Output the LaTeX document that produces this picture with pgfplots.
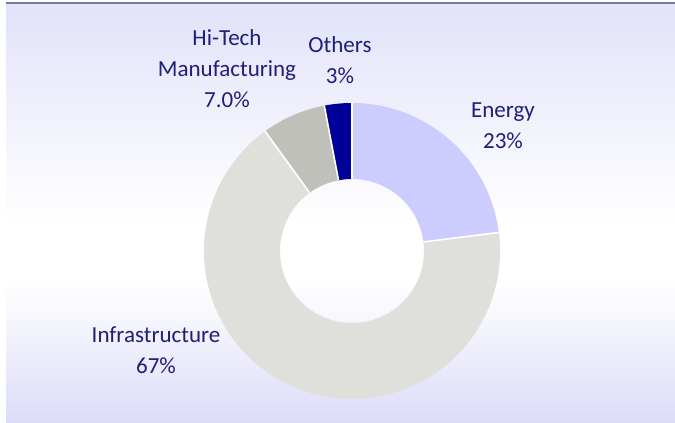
\documentclass[border=0pt]{standalone}
\usepackage{pgfplots}
\pgfplotsset{compat=1.18}
\usepgfplotslibrary{polar}
\usepackage{fontspec}
\setmainfont{Carlito}

\definecolor{cEnergy}{HTML}{CCCCFF}
\definecolor{cInfra}{HTML}{DFDFDB}
\definecolor{cHiTech}{HTML}{C0C0BA}
\definecolor{cOthers}{HTML}{000099}
\definecolor{txt}{HTML}{1F1F78}
\definecolor{bgTop}{HTML}{E2E2FA}
\definecolor{bgBot}{HTML}{DCDCF8}
\definecolor{rule}{HTML}{7878A4}

\begin{document}
\begin{tikzpicture}[x=1pt,y=1pt]
\useasboundingbox (0,0) rectangle (337.5,211.5);
% panel: lavender at top and bottom, white band in the middle
\shade[top color=bgTop, bottom color=white] (3,100) rectangle (337.5,210);
\fill[white] (3,70) rectangle (337.5,100);
\shade[top color=white, bottom color=bgBot] (3,0) rectangle (337.5,70);
\draw[rule, line width=1pt] (3,210) -- (337.5,210);

% shares in %: Energy 23, Infrastructure 67, Hi-Tech 7, Others 3
% clockwise from the top, 3.6 degrees per percent
\begin{polaraxis}[
    hide axis, scale only axis, clip=false,
    width=148pt, height=148pt,
    xmin=0, xmax=360, ymin=0, ymax=74,
    at={(176pt,86pt)}, anchor=center,
]
\addplot[cEnergy, line width=38pt, domain=7.2:90, samples=60, no marks] {55};
\addplot[cInfra, line width=38pt, domain=-234:7.2, samples=160, no marks] {55};
\addplot[cHiTech, line width=38pt, domain=-259.2:-234, samples=20, no marks] {55};
\addplot[cOthers, line width=38pt, domain=-270:-259.2, samples=10, no marks] {55};
% white separators
\addplot[white, line width=0.8pt, no marks] coordinates {(90,36) (90,74)};
\addplot[white, line width=0.8pt, no marks] coordinates {(7.2,36) (7.2,74)};
\addplot[white, line width=0.8pt, no marks] coordinates {(-234,36) (-234,74)};
\addplot[white, line width=0.8pt, no marks] coordinates {(-259.2,36) (-259.2,74)};
\end{polaraxis}

\begin{scope}[every node/.style={text=txt, align=center, font=\fontsize{11.5}{15.5}\selectfont}]
\node at (113.5,177) {Hi-Tech\\Manufacturing\\7.0\%};
\node at (170,181.5) {Others\\3\%};
\node at (251.5,148.5) {Energy\\23\%};
\node at (78,36.5) {Infrastructure\\67\%};
\end{scope}
\end{tikzpicture}
\end{document}
